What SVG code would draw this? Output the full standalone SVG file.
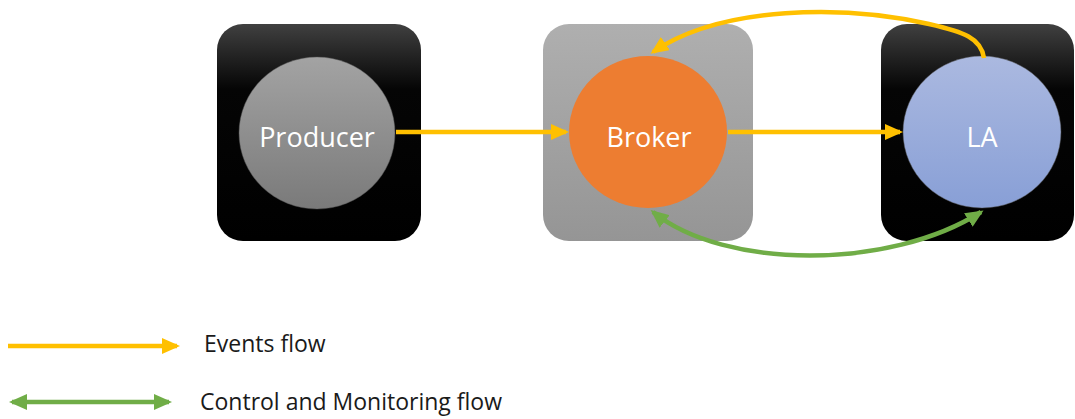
<svg xmlns="http://www.w3.org/2000/svg" width="1075" height="419" viewBox="0 0 1075 419">
  <defs>
    <linearGradient id="darkBox" x1="0" y1="0" x2="0" y2="1">
      <stop offset="0" stop-color="#404040"/>
      <stop offset="0.3" stop-color="#050505"/>
      <stop offset="1" stop-color="#000000"/>
    </linearGradient>
    <linearGradient id="greyBox" x1="0" y1="0" x2="0" y2="1">
      <stop offset="0" stop-color="#afafaf"/>
      <stop offset="1" stop-color="#959595"/>
    </linearGradient>
    <linearGradient id="greyCircle" x1="0" y1="0" x2="0" y2="1">
      <stop offset="0" stop-color="#a3a3a3"/>
      <stop offset="1" stop-color="#7a7a7a"/>
    </linearGradient>
    <linearGradient id="blueCircle" x1="0" y1="0" x2="0" y2="1">
      <stop offset="0" stop-color="#abb9e0"/>
      <stop offset="1" stop-color="#889fd6"/>
    </linearGradient>
    <marker id="headYellow" viewBox="0 0 18 16" refX="15" refY="8" markerWidth="18" markerHeight="16" markerUnits="userSpaceOnUse" orient="auto">
      <path d="M0 0 L18 8 L0 16 Z" fill="#ffc000"/>
    </marker>
    <marker id="headGreen" viewBox="0 0 18 16" refX="15" refY="8" markerWidth="18" markerHeight="16" markerUnits="userSpaceOnUse" orient="auto-start-reverse">
      <path d="M0 0 L18 8 L0 16 Z" fill="#70ad47"/>
    </marker>
  </defs>
  <style>
    .label { font-family: "Open Sans", "Noto Sans", "Liberation Sans", sans-serif; font-size: 27px; fill: #ffffff; text-anchor: middle; }
    .legend { font-family: "Open Sans", "Noto Sans", "Liberation Sans", sans-serif; font-size: 23px; fill: #1a1a1a; }
    .events { fill: none; stroke: #ffc000; stroke-width: 4.5; marker-end: url(#headYellow); }
    .control { fill: none; stroke: #70ad47; stroke-width: 4.5; marker-start: url(#headGreen); marker-end: url(#headGreen); }
    .ring { stroke: #555555; stroke-width: 0.8; stroke-opacity: 0.6; }
  </style>

  <!-- Producer -->
  <g id="producer">
    <rect x="217" y="24" width="204" height="217" rx="26" fill="url(#darkBox)"/>
    <ellipse cx="317" cy="133" rx="78" ry="76" fill="url(#greyCircle)" class="ring"/>
    <text x="317" y="147" class="label">Producer</text>
  </g>

  <!-- Broker -->
  <g id="broker">
    <rect x="543" y="24" width="210" height="217" rx="26" fill="url(#greyBox)"/>
    <ellipse cx="648" cy="132" rx="79" ry="76" fill="#ed7d31"/>
    <text x="649" y="147" class="label">Broker</text>
  </g>

  <!-- LA -->
  <g id="la">
    <rect x="881" y="24" width="193" height="217" rx="26" fill="url(#darkBox)"/>
    <ellipse cx="982" cy="132" rx="79" ry="76" fill="url(#blueCircle)" class="ring"/>
    <text x="982" y="147" class="label">LA</text>
  </g>

  <!-- Connectors -->
  <g id="connectors">
    <path class="events" d="M396 132 L566 132"/>
    <path class="events" d="M728 132 L900 132"/>
    <path class="events" d="M984 58 C981 38 964 32 929 24 C845 5 722 5 653 52"/>
    <path class="control" d="M653 212 C725 270 890 270 981 212"/>
  </g>

  <!-- Legend -->
  <g id="legend">
    <path class="events" d="M8 346 L177 346"/>
    <text x="204" y="352" class="legend">Events flow</text>
    <path class="control" d="M12 402 L169 402"/>
    <text x="200" y="410" class="legend">Control and Monitoring flow</text>
  </g>
</svg>
